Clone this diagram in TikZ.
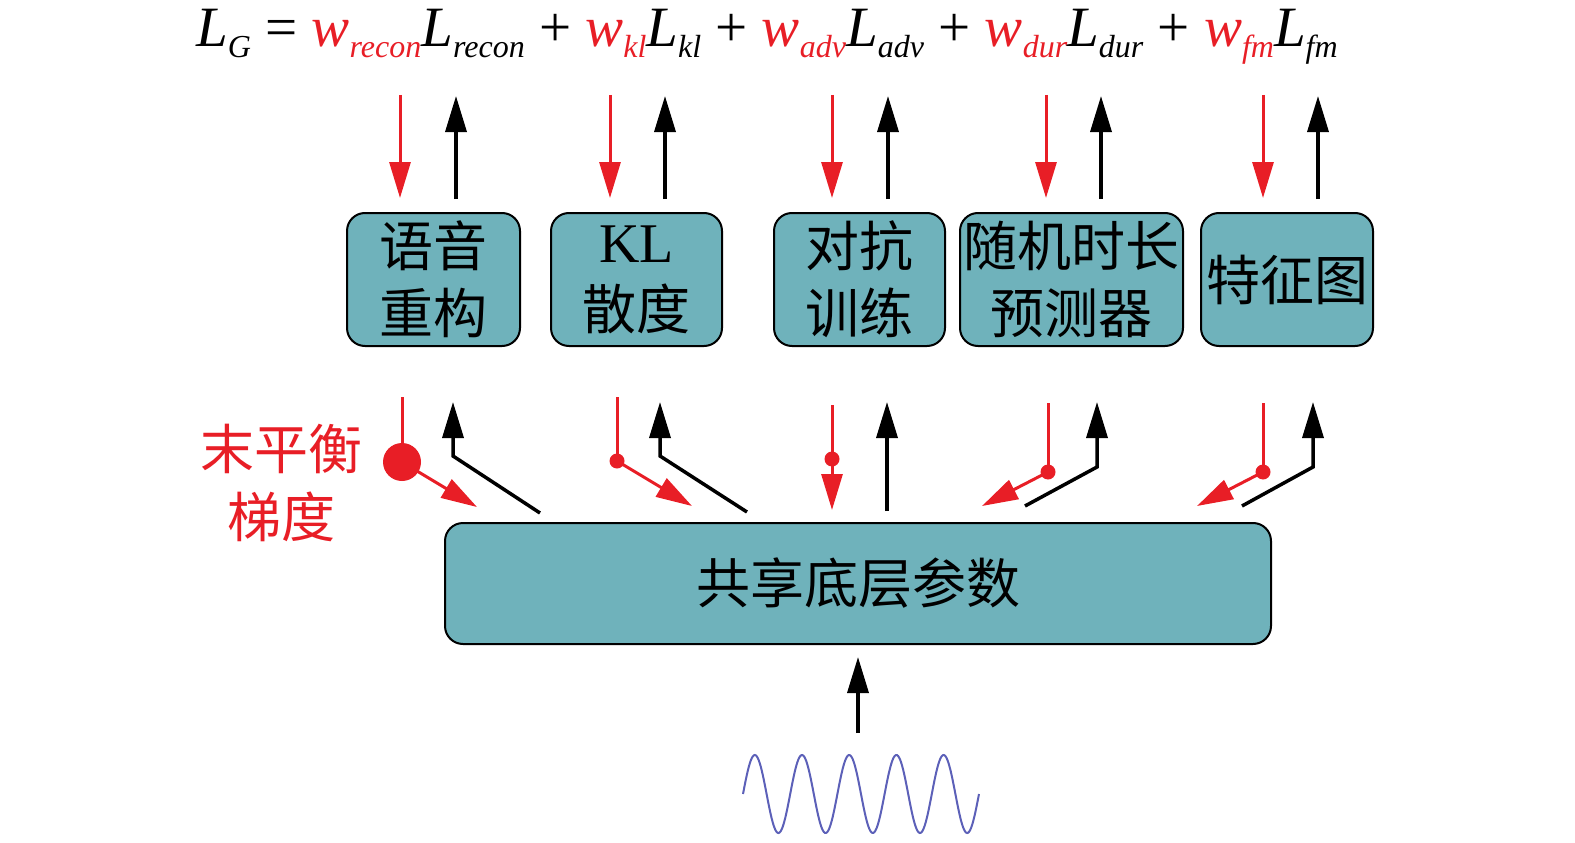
\documentclass[tikz,border=0pt]{standalone}
\usepackage{fontspec}
\setmainfont{Liberation Serif}
\newfontfamily\cjk{Noto Sans CJK SC}
\usetikzlibrary{arrows.meta}
\definecolor{wred}{RGB}{232,30,38}
\definecolor{boxteal}{RGB}{111,178,187}
\definecolor{wavebl}{RGB}{92,96,184}
\newcommand{\lsub}[1]{\raisebox{-11pt}{\fontsize{32}{32}\selectfont #1}}
\newcommand{\wl}[1]{{\color{wred}w\lsub{#1}}L\lsub{#1}}
\tikzset{
  task/.style={draw=black, line width=2pt, fill=boxteal, rounded corners=18pt, minimum height=133pt, inner sep=0pt, align=center, font=\cjk\fontsize{54}{67}\selectfont},
  redarr/.style={draw=wred, line width=3pt, -{Triangle[length=36pt,width=21pt]}},
  blkarr/.style={draw=black, line width=3.5pt, -{Triangle[length=36pt,width=21pt]}},
  gdot/.style={circle, fill=wred, inner sep=0pt, minimum size=15pt},
}

\begin{document}
\begin{tikzpicture}[x=1pt, y=-1pt]
		\useasboundingbox (0,0) rectangle (1575,843);
		% Loss
		\node[anchor=base, inner sep=0pt] (loss) at (767,47) {\fontsize{57}{60}\selectfont\itshape L\lsub{G} {\upshape =} \wl{recon} {\upshape +} \wl{kl} {\upshape +} \wl{adv} {\upshape +} \wl{dur} {\upshape +} \wl{fm}} ;
		% Tasks
		\node[task, minimum width=173pt] (recon) at (433.5,279.5) {语音\\重构} ;
		\node[task, minimum width=171pt] (kl) at (636.5,279.5) {{\rmfamily\fontsize{56}{67}\selectfont KL}\\散度} ;
		\node[task, minimum width=171pt] (adv) at (859.5,279.5) {对抗\\训练} ;
		\node[task, minimum width=223pt] (dur) at (1071.5,279.5) {随机时长\\预测器} ;
		\node[task, minimum width=172pt] (fm) at (1287,279.5) {特征图} ;
		\foreach \n/\rx/\bx in {1/400/456, 2/610/665, 3/832/888, 4/1046/1101, 5/1263/1318} {
			\coordinate (rt\n) at (\rx,95) ;
			\coordinate (rb\n) at (\rx,198) ;
			\coordinate (bb\n) at (\bx,199) ;
			\coordinate (bt\n) at (\bx,96) ;
			\draw[redarr] (rt\n) -- (rb\n) ;
			\draw[blkarr] (bb\n) -- (bt\n) ;
		}
		% Shared
		\node[task, minimum width=826pt, minimum height=121pt] (shared) at (858,583.5) {共享底层参数} ;
		% Gradients
		\node[text=wred, align=center, font=\cjk\fontsize{54}{68}\selectfont] (unbal) at (281,483) {末平衡\\梯度} ;
		\coordinate (g1) at (402,397) ; \node[gdot, minimum size=38pt] (d1) at (402,462) {} ; \coordinate (g1t) at (477,507) ;
		\coordinate (g2) at (617,397) ; \node[gdot] (d2) at (617,461) {} ; \coordinate (g2t) at (692,506) ;
		\coordinate (g3) at (832,405) ; \node[gdot] (d3) at (832,459) {} ; \coordinate (g3t) at (832,510) ;
		\coordinate (g4) at (1048,403) ; \node[gdot] (d4) at (1048,472) {} ; \coordinate (g4t) at (982,506) ;
		\coordinate (g5) at (1263,403) ; \node[gdot] (d5) at (1263,472) {} ; \coordinate (g5t) at (1197,506) ;
		\foreach \n in {1,...,5} {
			\draw[wred, line width=3pt] (g\n) -- (d\n.center) ;
			\draw[redarr] (d\n.center) -- (g\n t) ;
		}
		\coordinate (s1) at (540,513) ; \coordinate (c1) at (453,456) ; \coordinate (t1) at (453,402) ;
		\coordinate (s2) at (747,512) ; \coordinate (c2) at (660,456) ; \coordinate (t2) at (660,402) ;
		\coordinate (s3) at (887,511) ; \coordinate (c3) at (887,480) ; \coordinate (t3) at (887,402) ;
		\coordinate (s4) at (1025,506) ; \coordinate (c4) at (1097,467) ; \coordinate (t4) at (1097,402) ;
		\coordinate (s5) at (1242,506) ; \coordinate (c5) at (1313,467) ; \coordinate (t5) at (1313,402) ;
		\foreach \n in {1,...,5} {
			\draw[blkarr] (s\n) -- (c\n) -- (t\n) ;
		}
		% Input
		\coordinate (wtop) at (858,733) ;
		\coordinate (wtip) at (858,657) ;
		\draw[blkarr] (wtop) -- (wtip) ;
		\draw[wavebl, line width=2pt] plot[domain=0:236, samples=240, smooth] ({743+\x}, {794-39*sin(\x/47.2*360)}) ;
	\end{tikzpicture}
\end{document}
